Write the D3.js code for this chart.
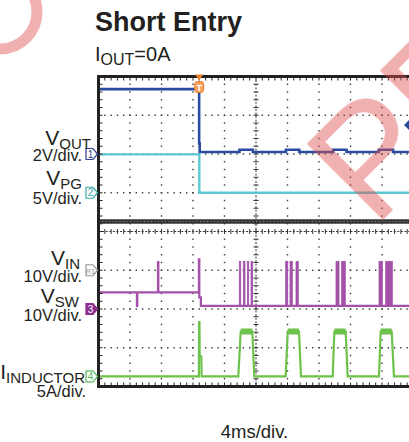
<!DOCTYPE html>
<html>
<head>
<meta charset="utf-8">
<title>Short Entry</title>
<script src="https://d3js.org/d3.v7.min.js"></script>
<style>
  body { margin: 0; background: #fff; }
  svg { display: block; font-family: "Liberation Sans", Arial, sans-serif; }
</style>
</head>
<body>
<svg id="chart" width="409" height="442"></svg>
<script>
// scope settings: 4 ms/div, 10 div across, 8 div high
const timeRange = [0, 40];
const divRange = [-4, 4];

// channels (top to bottom on the left)
const chMain   = ['V', 'V', 'V', 'V', 'I'];
const chSub    = ['OUT', 'PG', 'IN', 'SW', 'INDUCTOR'];
const chUnits  = ['2V/div.', '5V/div.', '10V/div.', '10V/div.', '5A/div.'];
const chScale  = [2, 5, 10, 10, 5];          // volts or amps per div
const chOffset = [2, 1, -1, -2, -3.74];      // ground level, div from centre
const chMarker = ['1', '2', 'R1', '3', '4'];

const vout = [[0, 3.35], [12.78, 3.35], [12.78, 0.55], [12.85, 0.55], [12.85, 0.1],
  [17.9, 0.1], [17.9, 0.22], [19.6, 0.22], [19.6, 0.1],
  [23.8, 0.1], [23.8, 0.22], [25.5, 0.22], [25.5, 0.1],
  [29.8, 0.1], [29.8, 0.22], [31.5, 0.22], [31.5, 0.1],
  [35.6, 0.1], [35.6, 0.22], [37.4, 0.22], [37.4, 0.1], [40, 0.1]];
const vpg = [[0, 4.95], [12.8, 4.95], [12.8, 0], [40, 0]];
const vin = [[0, 12.6], [40, 12.6]];
const vsw = [[0, 4.3], [4.88, 4.3], [4.88, 0.8], [4.93, 0.8], [4.93, 4.3],
  [7.55, 4.3], [7.55, 12.1], [7.6, 12.1], [7.6, 4.3],
  [12.75, 4.3], [12.75, 12.8], [12.8, 12.8], [12.8, 3], [13.0, 3], [13.0, 0.8], [40, 0.8]];
// switching bursts on VSW: [start ms, end ms], high level
const vswBursts = [[17.88, 18.06], [18.39, 18.60], [18.90, 19.07], [19.37, 19.58],
  [23.77, 24.03], [24.32, 24.61], [25.08, 25.37],
  [30.16, 30.54], [30.88, 31.34],
  [35.62, 36.04], [36.47, 37.31]];
const vswHigh = 12.3;
const iind = [[0, 0], [12.75, 0], [12.77, 7.0], [12.82, 7.0], [12.85, 2.6], [13.05, 2.6], [13.1, 0],
  [17.75, 0], [18.06, 5.8], [19.53, 5.8], [19.78, 0],
  [23.77, 0], [24.03, 5.8], [25.46, 5.8], [25.71, 0],
  [29.74, 0], [29.95, 5.8], [31.39, 5.8], [31.64, 0],
  [35.62, 0], [35.83, 5.8], [37.23, 5.8], [37.52, 0], [40, 0]];
const triggerTime = 12.78;

const svg = d3.select('#chart');
const plotLeft = 98.5, plotRight = 413.5, plotTop = 76.5, plotBottom = 386.5;

const x = d3.scaleLinear().domain(timeRange).range([plotLeft, plotRight]);
const y = d3.scaleLinear().domain(divRange).range([plotBottom, plotTop]);
const yCh = (i, v) => y(chOffset[i] + v / chScale[i]);

const colors = {
  vout: '#2b4c9e', vpg: '#5ec8d2', vin: '#353535', vsw: '#a451aa', ind: '#6cc24a',
  grid: '#333'
};

svg.append('clipPath').attr('id', 'clip')
  .append('rect').attr('x', plotLeft).attr('y', plotTop)
  .attr('width', plotRight - plotLeft).attr('height', plotBottom - plotTop);

//////////////// grid ////////////////
const grid = svg.append('g');
const xDivs = d3.range(1, 10).filter(d => d !== 5);
const yDivs = d3.range(-3, 4).filter(d => d !== 0);
const xSub = d3.range(0, 40.01, 0.8);
const ySub = d3.range(-4, 4.01, 0.2);

// dotted verticals
xDivs.forEach(d => {
  grid.selectAll(null).data(ySub).enter().append('rect')
    .attr('x', x(d * 4) - 0.7).attr('y', v => y(v) - 0.7)
    .attr('width', 1.4).attr('height', 1.4).attr('fill', colors.grid);
});
// dotted horizontals
yDivs.forEach(d => {
  grid.selectAll(null).data(xSub).enter().append('rect')
    .attr('x', t => x(t) - 0.7).attr('y', y(d) - 0.7)
    .attr('width', 1.4).attr('height', 1.4).attr('fill', colors.grid);
});
// centre cross with ticks
grid.append('line').attr('x1', x(20)).attr('x2', x(20)).attr('y1', plotTop).attr('y2', plotBottom)
  .attr('stroke', colors.grid).attr('stroke-width', 1).attr('stroke-dasharray', '2 1.6');
grid.append('line').attr('x1', plotLeft).attr('x2', plotRight).attr('y1', y(0)).attr('y2', y(0))
  .attr('stroke', colors.grid).attr('stroke-width', 1).attr('stroke-dasharray', '2 1.6');
grid.selectAll(null).data(ySub).enter().append('line')
  .attr('x1', x(20) - 2.5).attr('x2', x(20) + 2.5).attr('y1', v => y(v)).attr('y2', v => y(v))
  .attr('stroke', colors.grid).attr('stroke-width', 1);
grid.selectAll(null).data(xSub).enter().append('line')
  .attr('x1', t => x(t)).attr('x2', t => x(t)).attr('y1', y(0) - 2.5).attr('y2', y(0) + 2.5)
  .attr('stroke', colors.grid).attr('stroke-width', 1);

//////////////// traces ////////////////
const traces = svg.append('g').attr('clip-path', 'url(#clip)');
const lineFor = i => d3.line().x(d => x(d[0])).y(d => yCh(i, d[1]));

traces.append('path').datum(vin).attr('d', lineFor(2))
  .attr('fill', 'none').attr('stroke', colors.vin).attr('stroke-width', 4.5);
traces.append('path').datum(vin).attr('d', lineFor(2))
  .attr('fill', 'none').attr('stroke', '#888').attr('stroke-width', 1).attr('stroke-dasharray', '1 2.5');

traces.append('path').datum(vpg).attr('d', lineFor(1))
  .attr('fill', 'none').attr('stroke', colors.vpg).attr('stroke-width', 2.4);
traces.append('path').datum(vout).attr('d', lineFor(0))
  .attr('fill', 'none').attr('stroke', colors.vout).attr('stroke-width', 2.6);

traces.append('path').datum(vsw).attr('d', lineFor(3))
  .attr('fill', 'none').attr('stroke', colors.vsw).attr('stroke-width', 2.2);
traces.selectAll(null).data(vswBursts).enter().append('rect')
  .attr('x', d => x(d[0])).attr('width', d => x(d[1]) - x(d[0]))
  .attr('y', yCh(3, vswHigh)).attr('height', yCh(3, 0.8) - yCh(3, vswHigh))
  .attr('fill', colors.vsw).attr('stroke', colors.vsw).attr('stroke-width', 0.8);

traces.append('path').datum(iind).attr('d', lineFor(4))
  .attr('fill', 'none').attr('stroke', colors.ind).attr('stroke-width', 2.2);
// noisy pulse tops
const tops = d3.pairs(iind).filter(p => p[0][1] === 5.8 && p[1][1] === 5.8);
traces.selectAll(null).data(tops).enter().append('line')
  .attr('x1', p => x(p[0][0])).attr('x2', p => x(p[1][0]))
  .attr('y1', p => yCh(4, p[0][1])).attr('y2', p => yCh(4, p[1][1]))
  .attr('stroke', colors.ind).attr('stroke-width', 6);

//////////////// frame ////////////////
const frame = svg.append('g');
frame.append('rect').attr('x', plotLeft).attr('y', plotTop)
  .attr('width', plotRight - plotLeft).attr('height', plotBottom - plotTop)
  .attr('fill', 'none').attr('stroke', '#222').attr('stroke-width', 3);
frame.selectAll(null).data(xSub).enter().append('line')
  .attr('x1', t => x(t)).attr('x2', t => x(t)).attr('y1', plotTop).attr('y2', plotTop + 4)
  .attr('stroke', '#222').attr('stroke-width', 1);
frame.selectAll(null).data(xSub).enter().append('line')
  .attr('x1', t => x(t)).attr('x2', t => x(t)).attr('y1', plotBottom).attr('y2', plotBottom - 4)
  .attr('stroke', '#222').attr('stroke-width', 1);
frame.selectAll(null).data(ySub).enter().append('line')
  .attr('x1', plotLeft).attr('x2', plotLeft + 4).attr('y1', v => y(v)).attr('y2', v => y(v))
  .attr('stroke', '#222').attr('stroke-width', 1);

// trigger markers
const tx = x(triggerTime);
frame.append('path').attr('d', `M${tx - 4},${plotTop - 2} H${tx + 4} L${tx},${plotTop + 4} Z`).attr('fill', '#f07d2a');
frame.append('rect').attr('x', tx - 4.5).attr('y', plotTop + 5).attr('width', 9).attr('height', 11).attr('rx', 3)
  .attr('fill', '#f7a460').attr('stroke', '#ea7422').attr('stroke-width', 1);
frame.append('text').attr('x', tx).attr('y', plotTop + 14).attr('text-anchor', 'middle')
  .attr('font-size', 9).attr('font-weight', 'bold').attr('fill', '#fff').text('T');

// cursor marker at the right edge
frame.append('path').attr('d', 'M404,125 L411,118 L418,125 L411,132 Z').attr('fill', colors.vout);

// channel markers
const markerStyle = [
  { stroke: '#2e3f90', fill: '#fff', text: '#2e3f90' },
  { stroke: '#3aa8a2', fill: '#fff', text: '#3aa8a2' },
  { stroke: '#999', fill: '#fff', text: '#999' },
  { stroke: '#8a2d8c', fill: '#8a2d8c', text: '#fff' },
  { stroke: '#5cb85c', fill: '#fff', text: '#5cb85c' }
];
chMarker.forEach((m, i) => {
  const my = y(chOffset[i]);
  const g = frame.append('g');
  g.append('path').attr('d', `M86,${my - 5.5} H93 L97.5,${my} L93,${my + 5.5} H86 Z`)
    .attr('fill', markerStyle[i].fill).attr('stroke', markerStyle[i].stroke).attr('stroke-width', 1.2);
  g.append('text').attr('x', 90.5).attr('y', my + 3.5).attr('text-anchor', 'middle')
    .attr('font-size', m.length > 1 ? 7.5 : 10).attr('fill', markerStyle[i].text).text(m);
});

//////////////// labels ////////////////
const labelPos = [
  { nameBase: 145, nameEnd: 91, unitBase: 161, unitEnd: 82 },
  { nameBase: 185, nameEnd: 82, unitBase: 204, unitEnd: 82 },
  { nameBase: 265, nameEnd: 80, unitBase: 282, unitEnd: 82 },
  { nameBase: 303, nameEnd: 79, unitBase: 321, unitEnd: 82 },
  { nameBase: 379, nameEnd: 85, unitBase: 397, unitEnd: 86 }
];
const labels = svg.append('g').attr('fill', '#231f20');
chMain.forEach((m, i) => {
  const p = labelPos[i];
  const t = labels.append('text').attr('x', p.nameEnd).attr('y', p.nameBase).attr('text-anchor', 'end');
  t.append('tspan').attr('font-size', 21).text(m);
  t.append('tspan').attr('font-size', 15).attr('dy', 4).text(chSub[i]);
  labels.append('text').attr('x', p.unitEnd).attr('y', p.unitBase).attr('text-anchor', 'end')
    .attr('font-size', 16.5).text(chUnits[i]);
});

labels.append('text').attr('x', 95).attr('y', 31).attr('font-size', 27).attr('font-weight', 'bold').text('Short Entry');
const sub = labels.append('text').attr('x', 95).attr('y', 61);
sub.append('tspan').attr('font-size', 20).text('I');
sub.append('tspan').attr('font-size', 16).attr('dy', 4).text('OUT');
sub.append('tspan').attr('font-size', 20).attr('dy', -4).text('=0A');

labels.append('text').attr('x', 254.5).attr('y', 438).attr('text-anchor', 'middle')
  .attr('font-size', 18.5).text('4ms/div.');

//////////////// watermark ////////////////
const wm = svg.append('g').attr('opacity', 0.45).attr('pointer-events', 'none');
wm.append('circle').attr('cx', 0).attr('cy', 12).attr('r', 37)
  .attr('fill', 'none').attr('stroke', '#e05050').attr('stroke-width', 11);
wm.append('text').attr('transform', 'translate(374,229) rotate(-45)')
  .attr('font-size', 155).attr('fill', '#e05050').text('PREVIEW');
</script>
</body>
</html>
